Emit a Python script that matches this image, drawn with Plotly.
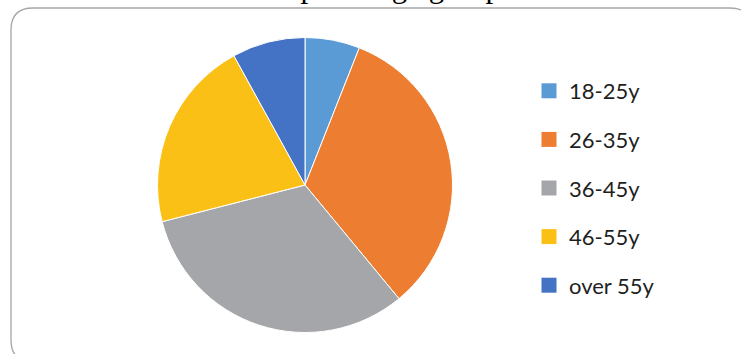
import plotly.graph_objects as go

# Age group shares (%)
age_groups = ["18-25y", "26-35y", "36-45y", "46-55y", "over 55y"]
shares = [6, 33, 32, 21, 8]
colors = ["#5B9BD5", "#ED7D31", "#A5A6A9", "#FBC015", "#4472C4"]
title_text = "Graph 1: Age groups"

W, H = 741, 354


def px_x(x):
    return x / W


def px_y(y):
    return 1 - y / H


fig = go.Figure()

# Pie, clockwise from 12 o'clock
cx, cy, r = 305, 185, 147.5
fig.add_trace(go.Pie(
    labels=age_groups,
    values=shares,
    sort=False,
    direction="clockwise",
    rotation=0,
    marker=dict(colors=colors, line=dict(color="white", width=1)),
    textinfo="none",
    hoverinfo="label+percent",
    showlegend=False,
    domain=dict(x=[px_x(cx - r), px_x(cx + r)], y=[px_y(cy + r), px_y(cy - r)]),
))

# Legend entries as square markers, one group per age band for spacing
for name, col in zip(age_groups, colors):
    fig.add_trace(go.Scatter(
        x=[None], y=[None], mode="markers", name=name, legendgroup=name,
        marker=dict(symbol="square", size=15, color=col),
    ))

# Rounded chart frame
L, T, R, B, rad = 11, 8, 752, 362, 22
path = (
    f"M {px_x(L + rad)},{px_y(T)} L {px_x(R - rad)},{px_y(T)} "
    f"Q {px_x(R)},{px_y(T)} {px_x(R)},{px_y(T + rad)} "
    f"L {px_x(R)},{px_y(B - rad)} Q {px_x(R)},{px_y(B)} {px_x(R - rad)},{px_y(B)} "
    f"L {px_x(L + rad)},{px_y(B)} Q {px_x(L)},{px_y(B)} {px_x(L)},{px_y(B - rad)} "
    f"L {px_x(L)},{px_y(T + rad)} Q {px_x(L)},{px_y(T)} {px_x(L + rad)},{px_y(T)} Z"
)
fig.add_shape(type="path", path=path, xref="paper", yref="paper",
              line=dict(color="#A6A6A6", width=1.3), fillcolor="rgba(0,0,0,0)",
              layer="below")

fig.add_annotation(
    text=title_text, xref="paper", yref="paper", x=px_x(383), y=px_y(-13),
    xanchor="center", yanchor="middle", showarrow=False,
    font=dict(family="Liberation Serif", size=31, color="black"),
)

fig.update_layout(
    width=W, height=H,
    margin=dict(l=0, r=0, t=0, b=0),
    paper_bgcolor="white", plot_bgcolor="white",
    xaxis=dict(visible=False), yaxis=dict(visible=False),
    legend=dict(
        x=px_x(529), y=px_y(70), xanchor="left", yanchor="top",
        font=dict(family="Lato", size=22, color="#1F1F1F"),
        tracegroupgap=17, bgcolor="rgba(0,0,0,0)",
    ),
)

fig.write_html("out.html")
